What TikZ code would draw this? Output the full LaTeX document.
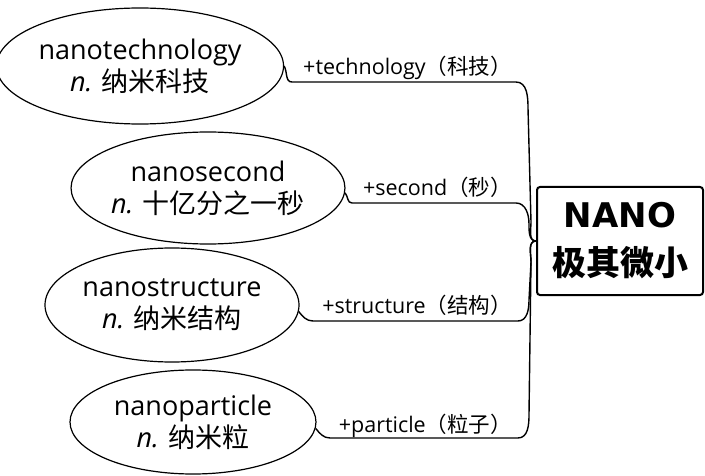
\documentclass[tikz,border=0pt]{standalone}
\usepackage{fontspec}
\setmainfont{Open Sans}
\newfontfamily\cjk{Noto Sans CJK SC}
\newfontfamily\deja{DejaVu Sans}
\usetikzlibrary{shapes.geometric}
\begin{document}
\begin{tikzpicture}[x=1pt,y=-1pt,
  ell/.style={ellipse, draw, line width=1.2pt, inner sep=0pt, align=center,
    font=\fontsize{27}{32}\selectfont},
  lbl/.style={anchor=base east, inner sep=0pt, font=\fontsize{21.5}{24}\selectfont},
  conn/.style={line width=1.4pt},
  titlebox/.style={draw, line width=2pt, rounded corners=3pt, align=center,
    minimum width=166pt, minimum height=108pt, inner sep=0pt,
    font=\fontsize{34}{48}\selectfont\bfseries}]
\useasboundingbox (0,0) rectangle (705,476);

\node[ell, minimum width=266pt, minimum height=116pt] (e1) at (140,66)
  {nanotechnology\\\textit{n.} {\cjk 纳米科技}};
\node[ell, minimum width=260pt, minimum height=112pt] (e2) at (208,188)
  {nanosecond\\\textit{n.} {\cjk 十亿分之一秒}};
\node[ell, minimum width=254pt, minimum height=114pt] (e3) at (172,305)
  {nanostructure\\\textit{n.} {\cjk 纳米结构}};
\node[ell, minimum width=246pt, minimum height=104pt] (e4) at (193,422)
  {nanoparticle\\\textit{n.} {\cjk 纳米粒}};

\node[titlebox] (box) at (620,241)
  {{\deja\bfseries NANO}\\{\cjk\bfseries 极其微小}};

\node[lbl] (l1) at (512,75) {+technology{\cjk （科技）}};
\node[lbl] (l2) at (512,196) {+second{\cjk （秒）}};
\node[lbl] (l3) at (512,313) {+structure{\cjk （结构）}};
\node[lbl] (l4) at (512,432) {+particle{\cjk （粒子）}};

\draw[conn] (e1.east) to[out=-60,in=180] (292,82) -- (516,82)
  to[out=0,in=90] (528,108) -- (531,222) to[out=-90,in=180] (box.west);
\draw[conn] (e2.-2) to[out=-50,in=180] (352,203) -- (516,203)
  to[out=0,in=90] (529,224) to[out=-90,in=180] (box.west);
\draw[conn] (e3.-3) to[out=-50,in=180] (313,321) -- (518,321)
  to[out=0,in=-90] (529,300) -- (531,262) to[out=90,in=180] (box.west);
\draw[conn] (e4.-3) to[out=-50,in=180] (330,438) -- (518,438)
  to[out=0,in=-90] (529,415) -- (531,262) to[out=90,in=180] (box.west);
\end{tikzpicture}
\end{document}
